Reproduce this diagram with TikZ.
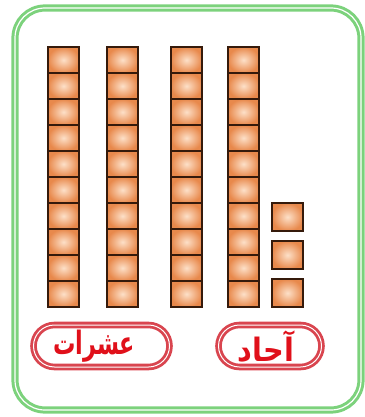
\documentclass[tikz,border=0pt]{standalone}
\usepackage{fontspec}
\TeXXeTstate=1
\newfontfamily\arabicfont[Script=Arabic]{DejaVu Sans}
\definecolor{framegreen}{HTML}{7CD27C}
\definecolor{cubeedge}{HTML}{351A0B}
\definecolor{cubein}{HTML}{FDE0C8}
\definecolor{cubeout}{HTML}{E8894C}
\definecolor{ovalred}{HTML}{D9454F}
\definecolor{textred}{HTML}{E0101A}
\tikzset{
  cube/.style={draw=cubeedge, line width=2.6pt, inner color=cubein, outer color=cubeout},
  frame/.style={draw=framegreen, line width=3.0pt, double=white, double distance=1.2pt, rounded corners=30pt},
  ovalbox/.style={draw=ovalred, line width=2.8pt, double=white, double distance=1.0pt, rounded corners=21pt,
    minimum height=42pt, inner sep=0pt},
  lbl/.style={inner sep=0pt, text=textred, font=\arabicfont\bfseries\fontsize{23}{25}\selectfont}
}
\begin{document}
\begin{tikzpicture}[x=1pt,y=-1pt]
\useasboundingbox (0,0) rectangle (364,417);
\draw[frame] (15,8) rectangle (361,410);
% tens rods
\foreach \x in {48,107,171,228}{
  \foreach \i in {0,...,9}{
    \path[cube] (\x,47+26*\i) rectangle ++(31,26);
  }
}
% units
\foreach \y in {203,241,279}{
  \path[cube] (272,\y) rectangle ++(31,28);
}
\node[ovalbox, minimum width=136pt] (tensbox) at (101.5,346) {};
\node[ovalbox, minimum width=103pt] (onesbox) at (270,346) {};
\node[lbl] (tens) at (94,346.5) {\scalebox{0.97}[1.4]{\beginR عشرات\endR}};
\node[lbl] (ones) at (266,346.5) {\scalebox{1.25}[1.4]{\beginR آحاد\endR}};
\end{tikzpicture}
\end{document}
